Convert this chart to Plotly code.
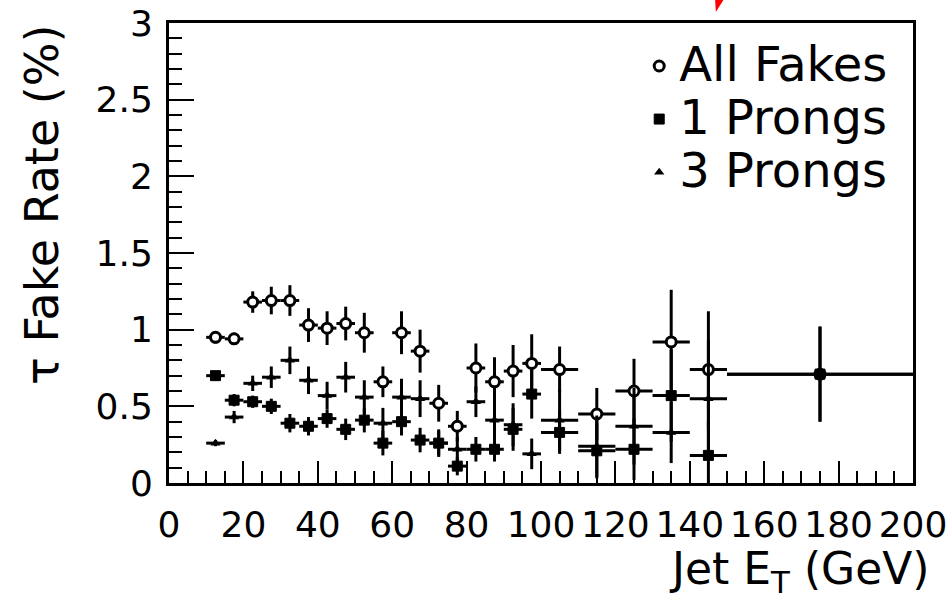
import plotly.graph_objects as go

# ---- data ----
jet_et = [12.5, 17.5, 22.5, 27.5, 32.5, 37.5, 42.5, 47.5, 52.5, 57.5, 62.5, 67.5,
          72.5, 77.5, 82.5, 87.5, 92.5, 97.5, 105, 115, 125, 135, 145, 175]
bin_half = [2.5, 2.5, 2.5, 2.5, 2.5, 2.5, 2.5, 2.5, 2.5, 2.5, 2.5, 2.5,
            2.5, 2.5, 2.5, 2.5, 2.5, 2.5, 5, 5, 5, 5, 5, 25]

all_fakes = [0.95, 0.94, 1.18, 1.19, 1.19, 1.03, 1.01, 1.04, 0.98, 0.66, 0.98, 0.86,
             0.52, 0.37, 0.75, 0.66, 0.73, 0.78, 0.74, 0.45, 0.60, 0.92, 0.74, 0.71]
all_err = [0.04, 0.04, 0.07, 0.09, 0.10, 0.11, 0.11, 0.11, 0.13, 0.10, 0.14, 0.14,
           0.12, 0.10, 0.16, 0.16, 0.17, 0.19, 0.15, 0.17, 0.21, 0.34, 0.38, 0.31]

one_prong = [0.70, 0.54, 0.53, 0.50, 0.39, 0.37, 0.42, 0.35, 0.41, 0.26, 0.40, 0.28,
             0.26, 0.11, 0.22, 0.22, 0.35, 0.58, 0.33, 0.21, 0.22, 0.57, 0.18, 0.71]
one_err = [0.03, 0.04, 0.04, 0.05, 0.06, 0.06, 0.06, 0.07, 0.08, 0.08, 0.09, 0.08,
           0.08, 0.06, 0.08, 0.08, 0.14, 0.16, 0.14, 0.18, 0.20, 0.30, 0.22, 0.31]

three_prong = [0.26, 0.43, 0.65, 0.69, 0.80, 0.67, 0.57, 0.69, 0.56, 0.39, 0.56, 0.55,
               0.26, 0.22, 0.53, 0.41, 0.38, 0.19, 0.41, 0.24, 0.37, 0.33, 0.55]
three_err = [0.02, 0.04, 0.05, 0.07, 0.09, 0.09, 0.09, 0.10, 0.11, 0.10, 0.12, 0.12,
             0.09, 0.08, 0.10, 0.12, 0.14, 0.10, 0.20, 0.20, 0.25, 0.20, 0.38]

x_ticks = [0, 20, 40, 60, 80, 100, 120, 140, 160, 180, 200]
y_ticks = [0, 0.5, 1, 1.5, 2, 2.5, 3]

TXT = "DejaVu Sans"
LEG = '<span style="font-size:48px">%s</span>'

def errs(arr):
    return dict(type="data", array=arr, width=0, thickness=3, color="black")

fig = go.Figure()
fig.add_trace(go.Scatter(
    x=jet_et, y=all_fakes, mode="markers", name=LEG % "All Fakes",
    error_x=errs(bin_half), error_y=errs(all_err),
    marker=dict(symbol="circle", size=10, color="white",
                line=dict(color="black", width=3))))
fig.add_trace(go.Scatter(
    x=jet_et, y=one_prong, mode="markers", name=LEG % "1 Prongs",
    error_x=errs(bin_half), error_y=errs(one_err),
    marker=dict(symbol="square", size=10, color="black",
                line=dict(color="black", width=1))))
fig.add_trace(go.Scatter(
    x=jet_et[:len(three_prong)], y=three_prong, mode="markers", name=LEG % "3 Prongs",
    error_x=errs(bin_half[:len(three_prong)]), error_y=errs(three_err),
    marker=dict(symbol="triangle-up", size=9, color="black")))

axis_common = dict(
    showgrid=False, zeroline=False, showline=True, linecolor="black",
    linewidth=3, mirror=True, ticks="inside", tickcolor="black", tickwidth=2,
    automargin=False, tickangle=0, ticklabeloverflow="allow",
    tickfont=dict(family=TXT, size=36, color="black"),
)

fig.update_xaxes(range=[0, 200], tickvals=x_ticks, ticklen=22,
                 minor=dict(dtick=5, ticklen=12, ticks="inside", tickcolor="black", tickwidth=2),
                 ticklabelstandoff=8, **axis_common)
fig.update_yaxes(range=[0, 3], tickvals=y_ticks, ticklen=25,
                 minor=dict(dtick=0.1, ticklen=13, ticks="inside", tickcolor="black", tickwidth=2),
                 ticklabelstandoff=6, **axis_common)

fig.update_layout(
    width=946, height=606,
    margin=dict(l=169, r=33, t=23, b=123, autoexpand=False),
    paper_bgcolor="white", plot_bgcolor="white",
    font=dict(family=TXT, color="black"),
    showlegend=True,
    legend=dict(x=0.632, y=0.975, xanchor="left", yanchor="top",
                bgcolor="rgba(0,0,0,0)", borderwidth=0,
                font=dict(family=TXT, size=38.5, color="black")),
    annotations=[
        dict(text="Jet E<sub>T</sub> (GeV)", xref="paper", yref="paper",
             x=1.025, y=-0.193, xanchor="right", yanchor="middle", showarrow=False,
             font=dict(family=TXT, size=44, color="black")),
        dict(text="τ Fake Rate (%)", xref="paper", yref="paper", textangle=-90,
             x=-0.171, y=0.604, xanchor="center", yanchor="middle", showarrow=False,
             font=dict(family=TXT, size=46, color="black")),
    ],
    shapes=[
        dict(type="path", xref="paper", yref="paper",
             path="M 0.734 1.052 L 0.746 1.052 L 0.735 1.024 Z",
             fillcolor="red", line=dict(width=0)),
    ],
)

fig.write_html("out.html")
